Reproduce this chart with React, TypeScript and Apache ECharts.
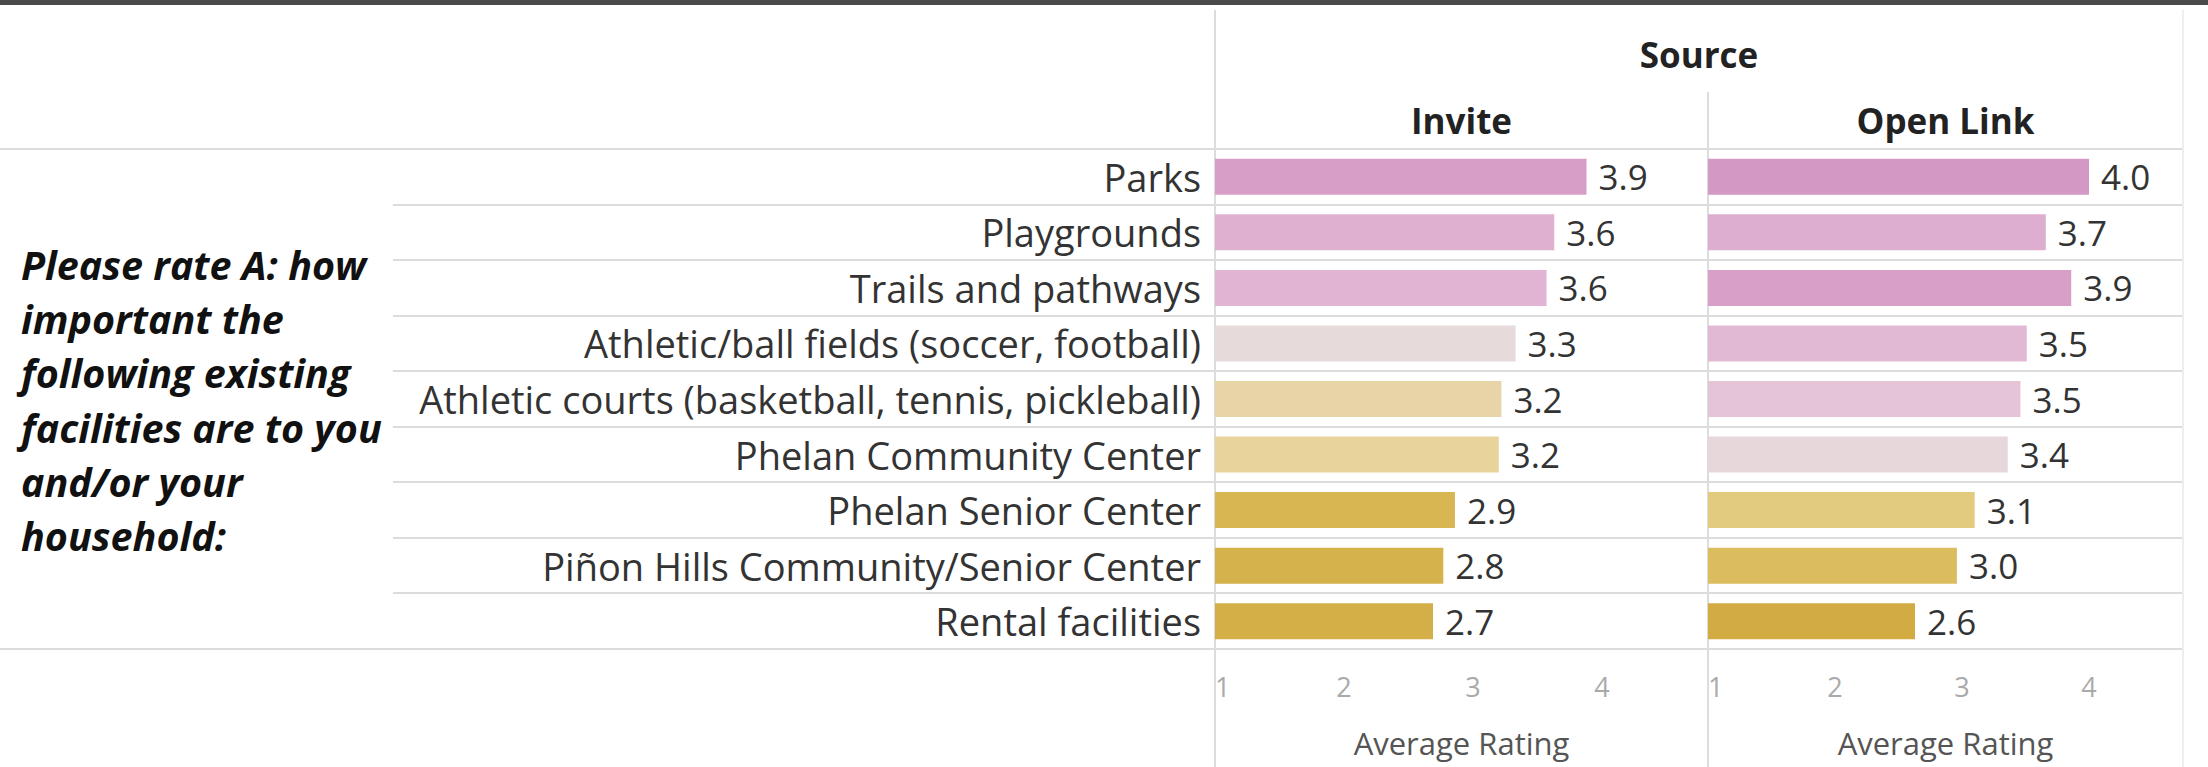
import React, { useEffect, useRef } from "react";
import * as echarts from "echarts";

const categories = [
  "Parks",
  "Playgrounds",
  "Trails and pathways",
  "Athletic/ball fields (soccer, football)",
  "Athletic courts (basketball, tennis, pickleball)",
  "Phelan Community Center",
  "Phelan Senior Center",
  "Piñon Hills Community/Senior Center",
  "Rental facilities",
];
const inviteValues = [3.88, 3.63, 3.57, 3.33, 3.22, 3.2, 2.86, 2.77, 2.69];
const openLinkValues = [4.0, 3.66, 3.86, 3.51, 3.46, 3.36, 3.1, 2.96, 2.63];
const paneNames = ["Invite", "Open Link"];
const columnHeader = "Source";
const axisTitle = "Average Rating";
const rowTitleLines = [
  "Please rate A: how",
  "important the",
  "following existing",
  "facilities are to you",
  "and/or your",
  "household:",
];

const FONT = "'Open Sans', 'Noto Sans', sans-serif";

export default function App() {
  const ref = useRef<HTMLDivElement>(null);
  useEffect(() => {
    document.body.style.margin = "0";
    const chart = echarts.init(ref.current!, null, { renderer: "svg" });
    const top = 149;
    const bottom = 649;
    const left1 = 1215;
    const mid = 1708;
    const right = 2183;
    const rowH = (bottom - top) / categories.length;
    const lineColor = "#dcdcdc";
    const graphics: any[] = [];
    graphics.push({
      type: "rect",
      shape: { x: 0, y: 0, width: 2208, height: 5 },
      style: { fill: "#4a4a4a" },
      silent: true,
    });
    graphics.push({
      type: "line",
      shape: { x1: 0, y1: top, x2: right, y2: top },
      style: { stroke: lineColor, lineWidth: 2 },
      silent: true,
    });
    graphics.push({
      type: "line",
      shape: { x1: 0, y1: bottom, x2: right, y2: bottom },
      style: { stroke: lineColor, lineWidth: 2 },
      silent: true,
    });
    for (let i = 1; i < categories.length; i++) {
      const y = Math.round(top + i * rowH);
      graphics.push({
        type: "line",
        shape: { x1: 393, y1: y, x2: right, y2: y },
        style: { stroke: lineColor, lineWidth: 2 },
        silent: true,
      });
    }
    graphics.push({
      type: "line",
      shape: { x1: left1, y1: 10, x2: left1, y2: 767 },
      style: { stroke: lineColor, lineWidth: 2 },
      silent: true,
    });
    graphics.push({
      type: "line",
      shape: { x1: mid, y1: 92, x2: mid, y2: 767 },
      style: { stroke: lineColor, lineWidth: 2 },
      silent: true,
    });
    graphics.push({
      type: "line",
      shape: { x1: right, y1: 10, x2: right, y2: 767 },
      style: { stroke: "#eeeeee", lineWidth: 2 },
      silent: true,
    });
    const header = (text: string, x: number, y: number) => ({
      type: "text",
      x,
      y,
      style: {
        text,
        fontSize: 35,
        fontWeight: "bold",
        fontFamily: FONT,
        fill: "#222",
        align: "center",
        verticalAlign: "middle",
      },
    });
    graphics.push(header(columnHeader, (left1 + right) / 2, 54));
    graphics.push(header(paneNames[0], (left1 + mid) / 2, 120));
    graphics.push(header(paneNames[1], (mid + right) / 2, 120));
    rowTitleLines.forEach((t, i) => {
      graphics.push({
        type: "text",
        x: 21,
        y: 265 + i * 54.2,
        style: {
          text: t,
          fontSize: 39.5,
          fontWeight: "bold",
          fontStyle: "italic",
          fontFamily: FONT,
          fill: "#111",
          align: "left",
          verticalAlign: "middle",
        },
      });
    });

    const xAxisCommon = (max: number) => ({
      type: "value",
      min: 1,
      max,
      interval: 1,
      axisLine: { show: false },
      axisTick: { show: false },
      splitLine: { show: false },
      axisLabel: {
        color: "#aaa",
        fontSize: 27,
        fontFamily: FONT,
        margin: 24,
        alignMinLabel: "left",
        showMaxLabel: false,
        formatter: (v: number) => (Number.isInteger(v) ? String(v) : ""),
      },
      name: axisTitle,
      nameLocation: "middle",
      nameGap: 78,
      nameTextStyle: { color: "#555", fontSize: 31, fontFamily: FONT },
    });

    const barSeries = (values: number[], idx: number) => ({
      type: "bar",
      xAxisIndex: idx,
      yAxisIndex: idx,
      data: values,
      barWidth: 36,
      label: {
        show: true,
        position: "right",
        distance: 12,
        fontSize: 35,
        fontFamily: FONT,
        color: "#333",
        formatter: (p: any) => Number(p.value).toFixed(1),
      },
    });

    chart.setOption({
      animation: false,
      graphic: graphics,
      visualMap: {
        show: false,
        type: "continuous",
        min: 2.6,
        max: 4.0,
        dimension: 0,
        seriesIndex: [0, 1],
        inRange: {
          color: [
            "#d2aa42",
            "#d4ae47",
            "#d6b34e",
            "#d9b957",
            "#dcc064",
            "#e2ca7e",
            "#e8d39a",
            "#e6dcdc",
            "#e8d4d8",
            "#e1bad4",
            "#e0b1d1",
            "#ddaccf",
            "#d9a3ca",
            "#d79ec7",
            "#d498c4",
          ],
        },
      },
      grid: [
        { left: left1, top, width: mid - left1, height: bottom - top },
        { left: mid, top, width: right - mid, height: bottom - top },
      ],
      xAxis: [
        { gridIndex: 0, ...xAxisCommon(1 + (mid - left1) / 129) },
        { gridIndex: 1, ...xAxisCommon(1 + (right - mid) / 127) },
      ],
      yAxis: [
        {
          gridIndex: 0,
          type: "category",
          data: categories,
          inverse: true,
          axisLine: { show: false },
          axisTick: { show: false },
          splitLine: { show: false },
          axisLabel: {
            color: "#333",
            fontSize: 38,
            fontFamily: FONT,
            margin: 14,
          },
        },
        {
          gridIndex: 1,
          type: "category",
          data: categories,
          inverse: true,
          axisLine: { show: false },
          axisTick: { show: false },
          splitLine: { show: false },
          axisLabel: { show: false },
        },
      ],
      series: [barSeries(inviteValues, 0), barSeries(openLinkValues, 1)],
    });
    return () => chart.dispose();
  }, []);
  return <div ref={ref} style={{ width: 2208, height: 767 }} />;
}
